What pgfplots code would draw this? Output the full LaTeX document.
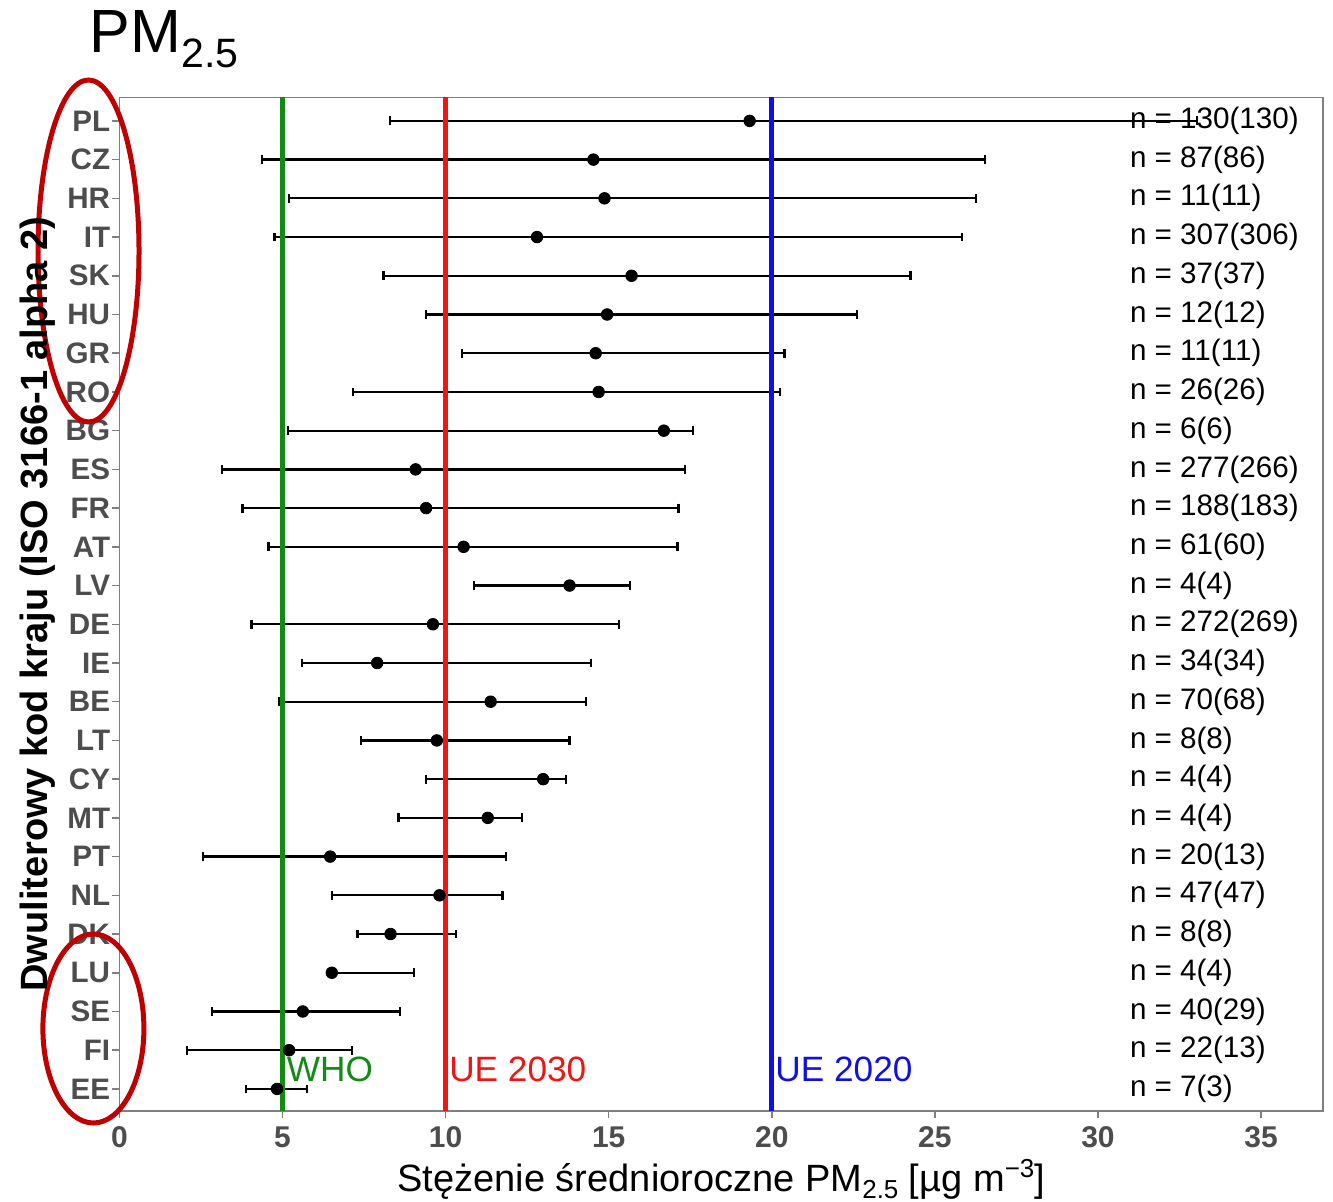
\documentclass[border=0pt]{standalone}
\usepackage{fontspec}
\setmainfont{Liberation Sans}
\usepackage{pgfplots}
\usepackage{pgfplotstable}
\pgfplotsset{compat=1.18}
\definecolor{tickgray}{HTML}{4D4D4D}
\definecolor{framegray}{HTML}{7F7F7F}
\definecolor{whogreen}{HTML}{138A13}
\definecolor{uered}{HTML}{F01414}
\definecolor{ueblue}{HTML}{1010E6}
\definecolor{ellred}{HTML}{C00000}
\tikzset{nlab/.style={anchor=west, inner sep=0pt, font=\fontsize{14.8}{16}\selectfont}}

\pgfplotstableread{
y lo mean hi
25 8.30 19.32 33.04
24 4.36 14.53 26.53
23 5.20 14.87 26.27
22 4.75 12.80 25.84
21 8.09 15.70 24.25
20 9.40 14.95 22.62
19 10.51 14.60 20.39
18 7.15 14.69 20.26
17 5.16 16.69 17.59
16 3.14 9.08 17.33
15 3.77 9.40 17.14
14 4.57 10.55 17.11
13 10.87 13.80 15.66
12 4.05 9.61 15.32
11 5.60 7.90 14.46
10 4.88 11.38 14.31
9 7.40 9.73 13.80
8 9.40 12.99 13.69
7 8.55 11.29 12.35
6 2.55 6.46 11.84
5 6.52 9.81 11.74
4 7.30 8.31 10.32
3 6.45 6.51 9.03
2 2.84 5.62 8.60
1 2.06 5.20 7.13
0 3.87 4.83 5.74
}\datatable

\begin{document}
\begin{tikzpicture}
\path[use as bounding box] (-59.75pt,-45.5pt) rectangle (606.75pt,555.5pt);
\begin{axis}[
  at={(0,0)}, anchor=south west,
  scale only axis,
  width=601.75pt, height=506.85pt,
  xmin=0, xmax=36.9,
  ymin=-0.57, ymax=25.61,
  xtick={0,5,...,35},
  ytick={0,...,25},
  yticklabels={EE,FI,SE,LU,DK,NL,PT,MT,CY,LT,BE,IE,DE,LV,AT,FR,ES,BG,RO,GR,HU,SK,IT,HR,CZ,PL},
  tick pos=left,
  tick align=outside,
  major tick length=3.5pt,
  axis line style={framegray, line width=0.75pt},
  every tick/.style={framegray, line width=0.75pt},
  /pgf/number format/assume math mode=true,
  xticklabel style={font=\fontsize{15}{16}\selectfont\bfseries, text=tickgray, inner sep=1pt, yshift=-3pt},
  yticklabel style={font=\fontsize{14.8}{16}\selectfont\bfseries, text=tickgray, inner sep=1pt},
  clip=false,
]
\addplot[black, only marks, mark=*, mark size=2.9pt,
  error bars/.cd, x dir=both, x explicit,
  error mark=|,
  error bar style={line width=1.15pt, black},
  error mark options={line width=1.15pt, mark size=2.2pt, black}]
  table[x=mean, y=y,
        x error plus expr=\thisrow{hi}-\thisrow{mean},
        x error minus expr=\thisrow{mean}-\thisrow{lo}] {\datatable};

\draw[whogreen, line width=2.4pt] (axis cs:5,-0.57) -- (axis cs:5,25.61);
\draw[uered, line width=2.4pt] (axis cs:10,-0.57) -- (axis cs:10,25.61);
\draw[ueblue, line width=2.4pt] (axis cs:20,-0.57) -- (axis cs:20,25.61);

\node[anchor=west, inner sep=0pt, text=whogreen, font=\fontsize{17.6}{18}\selectfont] at (axis cs:5.12,0.5) {WHO};
\node[anchor=west, inner sep=0pt, text=uered, font=\fontsize{17.6}{18}\selectfont] at (axis cs:10.1,0.5) {UE 2030};
\node[anchor=west, inner sep=0pt, text=ueblue, font=\fontsize{17.6}{18}\selectfont] at (axis cs:20.1,0.5) {UE 2020};

\node[nlab] at (axis cs:30.97,25) {n = 130(130)};
\node[nlab] at (axis cs:30.97,24) {n = 87(86)};
\node[nlab] at (axis cs:30.97,23) {n = 11(11)};
\node[nlab] at (axis cs:30.97,22) {n = 307(306)};
\node[nlab] at (axis cs:30.97,21) {n = 37(37)};
\node[nlab] at (axis cs:30.97,20) {n = 12(12)};
\node[nlab] at (axis cs:30.97,19) {n = 11(11)};
\node[nlab] at (axis cs:30.97,18) {n = 26(26)};
\node[nlab] at (axis cs:30.97,17) {n = 6(6)};
\node[nlab] at (axis cs:30.97,16) {n = 277(266)};
\node[nlab] at (axis cs:30.97,15) {n = 188(183)};
\node[nlab] at (axis cs:30.97,14) {n = 61(60)};
\node[nlab] at (axis cs:30.97,13) {n = 4(4)};
\node[nlab] at (axis cs:30.97,12) {n = 272(269)};
\node[nlab] at (axis cs:30.97,11) {n = 34(34)};
\node[nlab] at (axis cs:30.97,10) {n = 70(68)};
\node[nlab] at (axis cs:30.97,9) {n = 8(8)};
\node[nlab] at (axis cs:30.97,8) {n = 4(4)};
\node[nlab] at (axis cs:30.97,7) {n = 4(4)};
\node[nlab] at (axis cs:30.97,6) {n = 20(13)};
\node[nlab] at (axis cs:30.97,5) {n = 47(47)};
\node[nlab] at (axis cs:30.97,4) {n = 8(8)};
\node[nlab] at (axis cs:30.97,3) {n = 4(4)};
\node[nlab] at (axis cs:30.97,2) {n = 40(29)};
\node[nlab] at (axis cs:30.97,1) {n = 22(13)};
\node[nlab] at (axis cs:30.97,0) {n = 7(3)};

\draw[ellred, line width=2.5pt] (axis cs:-0.95,21.64) ellipse [x radius=25.25pt, y radius=85.5pt];
\draw[ellred, line width=2.5pt] (axis cs:-0.80,1.56) ellipse [x radius=25.25pt, y radius=47.25pt];
\end{axis}
% title
\node[anchor=base west, inner sep=0pt, font=\fontsize{30.5}{32}\selectfont] at (-15pt,529pt)
  {PM\raisebox{-7.5pt}{\fontsize{20.5}{21}\selectfont 2.5}};
% y label
\node[rotate=90, inner sep=0pt, font=\fontsize{19}{20}\selectfont\bfseries] at (-40.75pt,253.4pt)
  {Dwuliterowy kod kraju (ISO 3166-1 alpha 2)};
% x label
\node[anchor=base, inner sep=0pt, font=\fontsize{19}{20}\selectfont] at (300.9pt,-40.3pt)
  {Stężenie średnioroczne PM\raisebox{-3.5pt}{\fontsize{13}{14}\selectfont 2.5} [µg m\raisebox{7pt}{\fontsize{13}{14}\selectfont −3}]};
\end{tikzpicture}
\end{document}
